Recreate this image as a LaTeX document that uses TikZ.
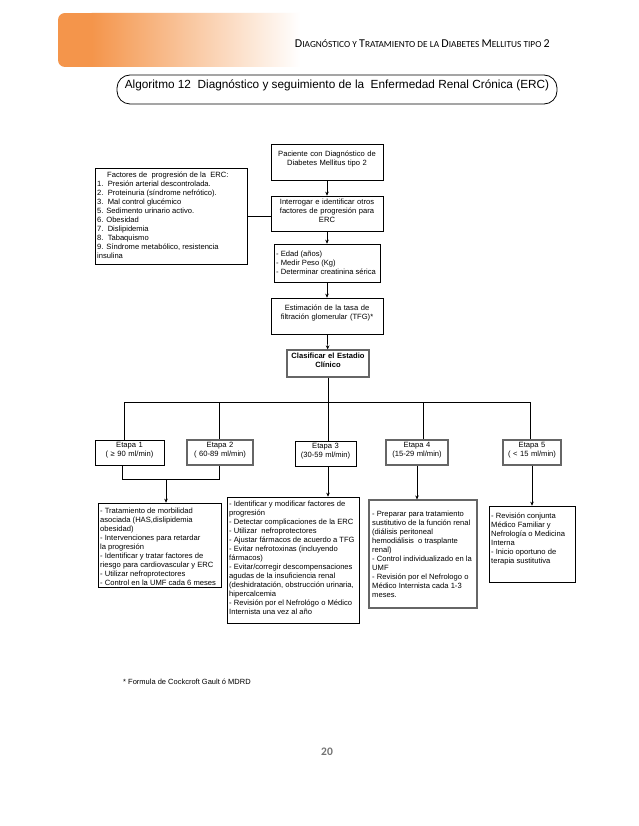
\documentclass[tikz,border=0pt]{standalone}
\usepackage{fontspec}
\setmainfont{Liberation Sans}
\newfontfamily\hdrfont{Carlito}
\usetikzlibrary{arrows.meta,fit}
\definecolor{bannerorange}{HTML}{F4954B}
\newcommand{\hsc}[2]{{\fontsize{12}{13}\selectfont #1}{\fontsize{9.3}{10}\selectfont #2}}
\begin{document}
\begin{tikzpicture}[x=1pt,y=-1pt,
  box/.style={draw=black, line width=0.6pt, inner sep=0pt},
  gbox/.style={draw=black!60, line width=1.1pt, inner sep=0pt},
  txt/.style={font=\fontsize{7.6}{9}\selectfont, inner sep=0pt},
  conn/.style={line width=0.7pt},
  arr/.style={line width=0.7pt, -{Stealth[length=4pt,width=3.5pt]}},
]
\useasboundingbox (0,0) rectangle (638,826);
\fill[white] (0,0) rectangle (638,826);

% banner
\begin{scope}
  \clip[rounded corners=7pt] (58,13) rectangle (320,67);
  \fill[bannerorange] (58,13) rectangle (92,67);
  \shade[left color=bannerorange, right color=white] (91.5,13) rectangle (300,67);
\end{scope}
\node[anchor=base east, inner sep=0pt, font=\hdrfont] (hdr) at (550,48)
  {\hsc{D}{IAGNÓSTICO} \hsc{}{Y} \hsc{T}{RATAMIENTO} \hsc{}{DE LA} \hsc{D}{IABETES} \hsc{M}{ELLITUS} \hsc{}{TIPO} \hsc{2}{}};

% title
\node[draw=black, line width=0.8pt, rounded corners=13pt, inner sep=0pt,
      fit={(117,75) (557,104)}, font=\fontsize{11.8}{13}\selectfont] (title)
  {Algoritmo 12\ \ Diagnóstico y seguimiento de la\ \ Enfermedad Renal Crónica (ERC)};

% main column
\node[box, fit={(271,144) (383,180)}, txt, align=center] (pac)
  {Paciente con Diagnóstico de\\Diabetes Mellitus tipo 2};
\node[box, fit={(271,196) (383,231)}, txt, align=center] (int)
  {Interrogar e identificar otros\\factores de progresión para\\ERC};
\node[box, fit={(274,244) (380,282)}] (edad) {};
\node[txt, anchor=west, align=left] (edadt) at (276,263)
  {- Edad (años)\\- Medir Peso (Kg)\\- Determinar creatinina sérica};
\node[box, fit={(271,298) (383,334)}, txt, align=center] (est)
  {Estimación de la tasa de\\filtración glomerular (TFG)*};
\node[gbox, fit={(287,350) (369,377)}, txt, align=center, font=\fontsize{7.6}{9}\selectfont\bfseries] (cla)
  {Clasificar el Estadio\\Clínico};

% factores
\node[box, fit={(95,168) (247,264)}] (fac) {};
\node[txt, anchor=north west, align=left] (fact) at (97,172)
  {\hspace*{10pt}Factores de\ \ progresión de la\ \ ERC:\\
   1.\ \ Presión arterial descontrolada.\\
   2.\ \ Proteinuria (síndrome nefrótico).\\
   3.\ \ Mal control glucémico\\
   5. Sedimento urinario activo.\\
   6. Obesidad\\
   7.\ \ Dislipidemia\\
   8.\ \ Tabaquismo\\
   9. Síndrome metabólico, resistencia\\
   insulina};

% stages
\node[box,  fit={(95,440) (164,465)}, txt, align=center] (e1) {Etapa 1\\( ≥ 90 ml/min)};
\node[gbox, fit={(187,440) (253,465)}, txt, align=center] (e2) {Etapa 2\\( 60-89 ml/min)};
\node[box,  fit={(295,441) (356,466)}, txt, align=center] (e3) {Etapa 3\\(30-59 ml/min)};
\node[gbox, fit={(386,440) (448,465)}, txt, align=center] (e4) {Etapa 4\\(15-29 ml/min)};
\node[gbox, fit={(503,440) (561,465)}, txt, align=center] (e5) {Etapa 5\\( < 15 ml/min)};

% bottom boxes
\node[box, fit={(98,503) (221,587)}] (b1) {};
\node[txt, anchor=north west, align=left] (b1t) at (100,508)
  {- Tratamiento de morbilidad\\
   asociada (HAS,dislipidemia\\
   obesidad)\\
   - Intervenciones para retardar\\
   la progresión\\
   - Identificar y tratar factores de\\
   riesgo para cardiovascular y ERC\\
   - Utilizar nefroprotectores\\
   - Control en la UMF cada 6 meses};
\node[box, fit={(227,497) (359,623)}] (b2) {};
\node[txt, anchor=north west, align=left] (b2t) at (229,501)
  {- Identificar y modificar factores de\\
   progresión\\
   - Detectar complicaciones de la ERC\\
   - Utilizar\ \ nefroprotectores\\
   - Ajustar fármacos de acuerdo a TFG\\
   - Evitar nefrotoxinas (incluyendo\\
   fármacos)\\
   - Evitar/corregir descompensaciones\\
   agudas de la insuficiencia renal\\
   (deshidratación, obstrucción urinaria,\\
   hipercalcemia\\
   - Revisión por el Nefrológo o Médico\\
   Internista una vez al año};
\node[gbox, fit={(369,500) (477,608)}] (b3) {};
\node[txt, anchor=north west, align=left] (b3t) at (372,511)
  {- Preparar para tratamiento\\
   sustitutivo de la función renal\\
   (diálisis peritoneal\\
   hemodiálisis\ \ o trasplante\\
   renal)\\
   - Control individualizado en la\\
   UMF\\
   - Revisión por el Nefrologo o\\
   Médico Internista cada 1-3\\
   meses.};
\node[box, fit={(489,506) (575,582)}] (b4) {};
\node[txt, anchor=north west, align=left] (b4t) at (491,513)
  {- Revisión conjunta\\
   Médico Familiar y\\
   Nefrología o Medicina\\
   Interna\\
   - Inicio oportuno de\\
   terapia sustitutiva};

% connectors main column
\draw[arr] (pac) -- (int);
\draw[conn] (fac.east) -- (fac.east -| int.west);
\draw[arr] (int) -- (edad);
\draw[arr] (edad) -- (est);
\draw[arr] (est) -- (cla);

% bar
\coordinate (barL) at (124,402);
\coordinate (barR) at (530,402);
\coordinate (v2) at (219,402);
\coordinate (v4) at (423,402);
\draw[conn] (cla.south) -- (cla.south |- barL);
\draw[conn] (barL) -- (barR);
\draw[conn] (barL) -- (barL |- e1.north);
\draw[conn] (v2) -- (v2 |- e2.north);
\draw[conn] (cla.south |- barL) -- (cla.south |- e3.north);
\draw[conn] (v4) -- (v4 |- e4.north);
\draw[conn] (barR) -- (barR |- e5.north);

% stage to boxes
\coordinate (j1) at (122,479);
\coordinate (j2) at (219,479);
\coordinate (jm) at (166,479);
\draw[conn] (j1 |- e1.south) -- (j1) -- (j2) -- (j2 |- e2.south);
\draw[arr] (jm) -- (jm |- b1.north);
\draw[arr] (e3.south -| cla.south) -- (cla.south |- b2.north);
\draw[arr] (e4.south) -- (e4.south |- b3.north);
\draw[arr] (e5.south) -- (e5.south |- b4.north);

% footnote and page number
\node[anchor=west, inner sep=0pt, font=\fontsize{7.5}{9}\selectfont] (foot) at (123,682)
  {* Formula de Cockcroft Gault ó MDRD};
\node[inner sep=0pt, font=\hdrfont\fontsize{11.5}{13}\selectfont\bfseries, text=black!55] (pg) at (327,752) {20};
\end{tikzpicture}
\end{document}
